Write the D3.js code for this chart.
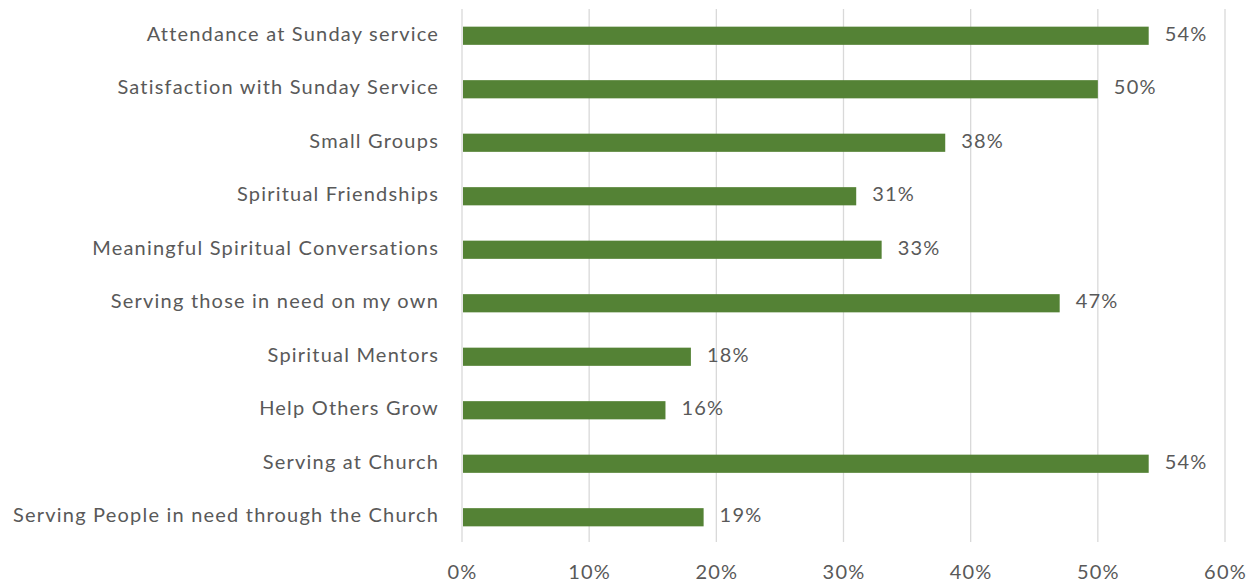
<!DOCTYPE html>
<html>
<head>
<meta charset="utf-8">
<script src="https://cdn.jsdelivr.net/npm/d3@7"></script>
<style>
  html, body { margin: 0; padding: 0; background: #ffffff; }
  svg { display: block; font-family: Lato, "Open Sans", sans-serif; }
  svg text { letter-spacing: 1.2px; }
</style>
</head>
<body>
<svg id="chart" width="1257" height="582"></svg>
<script>
// Survey categories, top to bottom
const categories = [
  "Attendance at Sunday service",
  "Satisfaction with Sunday Service",
  "Small Groups",
  "Spiritual Friendships",
  "Meaningful Spiritual Conversations",
  "Serving those in need on my own",
  "Spiritual Mentors",
  "Help Others Grow",
  "Serving at Church",
  "Serving People in need through the Church"
];

// Share of respondents for each category
const values = [0.54, 0.50, 0.38, 0.31, 0.33, 0.47, 0.18, 0.16, 0.54, 0.19];

// Value axis ticks
const xTicks = [0, 0.1, 0.2, 0.3, 0.4, 0.5, 0.6];

const svg = d3.select("#chart");
const plotLeft = 462, plotRight = 1225, plotTop = 9, plotBottom = 542;
const textColor = "#595959";
const barColor = "#548235";
const fontSize = "20px";

const x = d3.scaleLinear().domain([0, 0.6]).range([plotLeft, plotRight]);
const y = d3.scaleBand().domain(categories).range([plotTop, plotBottom + 2]).paddingInner(0.66).paddingOuter(0.33);

// Vertical gridlines
svg.append("g")
  .selectAll("line")
  .data(xTicks)
  .join("line")
  .attr("x1", d => x(d)).attr("x2", d => x(d))
  .attr("y1", plotTop).attr("y2", plotBottom)
  .attr("stroke", "#d9d9d9")
  .attr("stroke-width", 1.3);

// X axis tick labels
const fmt = d3.format(".0%");
const xAxis = d3.axisBottom(x).tickValues(xTicks).tickFormat(fmt).tickSize(0).tickPadding(0);
const gx = svg.append("g").attr("transform", `translate(0,${plotBottom})`).call(xAxis);
gx.select(".domain").remove();
gx.selectAll("text")
  .attr("y", 30)
  .attr("dy", "0.35em")
  .attr("fill", textColor)
  .style("font-size", fontSize)
  .style("font-family", "Lato, sans-serif");

// Category labels
const yAxis = d3.axisLeft(y).tickSize(0).tickPadding(0);
const gy = svg.append("g").attr("transform", `translate(${plotLeft - 23},0)`).call(yAxis);
gy.select(".domain").remove();
gy.selectAll("text")
  .attr("fill", textColor)
  .attr("dy", "0.25em")
  .style("font-size", fontSize)
  .style("font-family", "Lato, sans-serif");

// Bars
const rows = categories.map((c, i) => ({ c, v: values[i] }));
svg.append("g")
  .selectAll("rect")
  .data(rows)
  .join("rect")
  .attr("x", x(0) + 1)
  .attr("y", d => y(d.c))
  .attr("width", d => x(d.v) - x(0) - 1)
  .attr("height", y.bandwidth())
  .attr("fill", barColor);

// Value labels
svg.append("g")
  .selectAll("text")
  .data(rows)
  .join("text")
  .attr("x", d => x(d.v) + 16)
  .attr("y", d => y(d.c) + y.bandwidth() / 2)
  .attr("dy", "0.25em")
  .attr("fill", textColor)
  .style("font-size", fontSize)
  .text(d => fmt(d.v));
</script>
</body>
</html>
